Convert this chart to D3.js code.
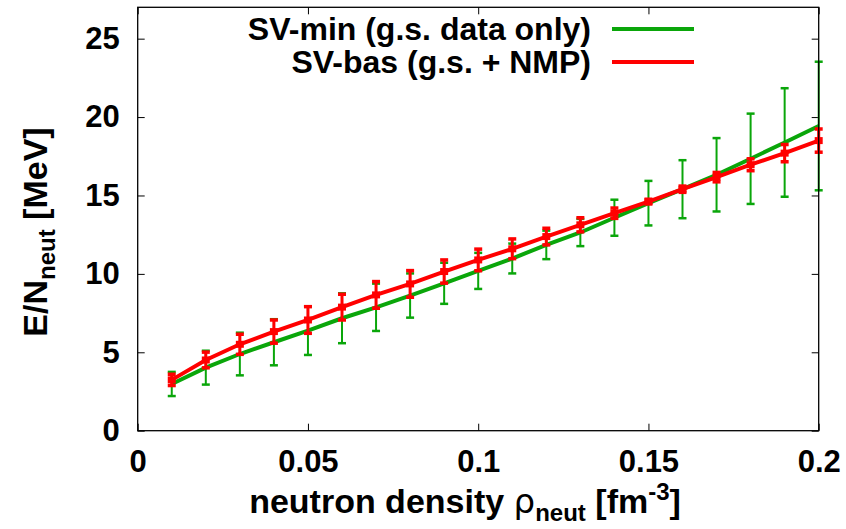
<!DOCTYPE html>
<html><head><meta charset="utf-8">
<script src="https://cdn.jsdelivr.net/npm/d3@7"></script>
<style>
html,body{margin:0;padding:0;background:#fff;}
text{font-family:"Liberation Sans",Arial,Helvetica,sans-serif;font-weight:bold;fill:#000;}
</style></head>
<body>
<svg id="chart" width="846" height="529"></svg>
<script>
// ---- data ----
const density = [0.01,0.02,0.03,0.04,0.05,0.06,0.07,0.08,0.09,0.10,0.11,0.12,0.13,0.14,0.15,0.16,0.17,0.18,0.19,0.20];
const svMin    = [2.98,4.02,4.89,5.64,6.38,7.17,7.87,8.62,9.40,10.19,10.98,11.85,12.64,13.58,14.51,15.40,16.32,17.34,18.38,19.43];
const svMinErr = [0.77,1.08,1.36,1.47,1.55,1.59,1.51,1.41,1.31,1.15,0.95,0.91,0.87,1.15,1.42,1.85,2.34,2.88,3.46,4.10];
const svBas    = [3.24,4.51,5.51,6.32,7.06,7.88,8.66,9.36,10.15,10.89,11.60,12.38,13.13,13.87,14.61,15.40,16.17,16.96,17.70,18.50];
const svBasErr = [0.36,0.50,0.64,0.74,0.85,0.82,0.85,0.85,0.74,0.69,0.63,0.53,0.45,0.33,0.15,0.20,0.30,0.38,0.55,0.74];
const xTicks = [0,0.05,0.1,0.15,0.2];
const xTickLabels = ["0","0.05","0.1","0.15","0.2"];
const yTicks = [0,5,10,15,20,25];
const yTickLabels = ["0","5","10","15","20","25"];
const legendLabels = ["SV-min (g.s. data only)","SV-bas (g.s. + NMP)"];

const GREEN = "#0aa60a", RED = "#ff0000";
const svg = d3.select("#chart");
const L = 137.7, R = 818.7, T = 7.3, B = 430.7;
const x = d3.scaleLinear().domain([0,0.2]).range([L,R]);
const y = d3.scaleLinear().domain([0,27]).range([B,T]);
const tl = 7;

// axes (ticks inward, mirrored)
const gx = svg.append("g").attr("transform",`translate(0,${B})`)
  .call(d3.axisBottom(x).tickValues(xTicks).tickFormat((d,i)=>xTickLabels[i]).tickSizeInner(-tl).tickSizeOuter(0).tickPadding(tl+12));
const gxt = svg.append("g").attr("transform",`translate(0,${T})`)
  .call(d3.axisTop(x).tickValues(xTicks).tickFormat("").tickSizeInner(-tl).tickSizeOuter(0));
const gy = svg.append("g").attr("transform",`translate(${L},0)`)
  .call(d3.axisLeft(y).tickValues(yTicks).tickFormat((d,i)=>yTickLabels[i]).tickSizeInner(-tl).tickSizeOuter(0).tickPadding(tl+11));
const gyr = svg.append("g").attr("transform",`translate(${R},0)`)
  .call(d3.axisRight(y).tickValues(yTicks).tickFormat("").tickSizeInner(-tl).tickSizeOuter(0));
[gx,gxt,gy,gyr].forEach(g=>{g.select(".domain").remove(); g.selectAll("line").attr("stroke","#000").attr("stroke-width",1);});
gx.selectAll("text").attr("font-size",31).attr("font-family","Liberation Sans").attr("font-weight","bold");
gy.selectAll("text").attr("font-size",31).attr("font-family","Liberation Sans").attr("font-weight","bold");

const pts = density.map((d,i)=>({d,i}));
// green error bars
const gErr = svg.append("g");
pts.forEach(p=>{
  const cx = x(p.d), y1 = y(svMin[p.i]+svMinErr[p.i]), y2 = y(svMin[p.i]-svMinErr[p.i]);
  gErr.append("line").attr("x1",cx).attr("x2",cx).attr("y1",y1).attr("y2",y2).attr("stroke",GREEN).attr("stroke-width",2);
  [y1,y2].forEach(yy=>gErr.append("line").attr("x1",cx-4).attr("x2",cx+4).attr("y1",yy).attr("y2",yy).attr("stroke",GREEN).attr("stroke-width",2.5));
});
const line = d3.line().x(d=>x(d[0])).y(d=>y(d[1]));
svg.append("path").datum(density.map((d,i)=>[d,svMin[i]])).attr("d",line).attr("fill","none").attr("stroke",GREEN).attr("stroke-width",4);
// red
svg.append("path").datum(density.map((d,i)=>[d,svBas[i]])).attr("d",line).attr("fill","none").attr("stroke",RED).attr("stroke-width",4);
const rErr = svg.append("g");
pts.forEach(p=>{
  const cx = x(p.d), y1 = y(svBas[p.i]+svBasErr[p.i]), y2 = y(svBas[p.i]-svBasErr[p.i]);
  rErr.append("line").attr("x1",cx).attr("x2",cx).attr("y1",y1).attr("y2",y2).attr("stroke",RED).attr("stroke-width",3);
  [y1,y2].forEach(yy=>rErr.append("line").attr("x1",cx-4).attr("x2",cx+4).attr("y1",yy).attr("y2",yy).attr("stroke",RED).attr("stroke-width",3.5));
  rErr.append("rect").attr("x",cx-4).attr("y",y(svBas[p.i])-3.5).attr("width",8).attr("height",7).attr("fill",RED);
});

// border
svg.append("rect").attr("x",L).attr("y",T).attr("width",R-L).attr("height",B-T).attr("fill","none").attr("stroke","#000").attr("stroke-width",1.3);

// legend
const legY = [29, 62];
legendLabels.forEach((t,i)=>{
  svg.append("text").attr("x",591).attr("y",legY[i]).attr("dy","0.35em").attr("text-anchor","end").attr("font-size",32).text(t);
  svg.append("line").attr("x1",612).attr("x2",694).attr("y1",legY[i]).attr("y2",legY[i]).attr("stroke",i===0?GREEN:RED).attr("stroke-width",4);
});

// axis titles
const xt = svg.append("text").attr("x",465).attr("y",513).attr("text-anchor","middle").attr("font-size",34);
xt.append("tspan").text("neutron density ");
xt.append("tspan").text("ρ").attr("font-family","DejaVu Sans").attr("font-weight","normal");
xt.append("tspan").text("neut").attr("font-size",24).attr("dy",8);
xt.append("tspan").text(" [fm").attr("dy",-8);
xt.append("tspan").text("-3").attr("font-size",24).attr("dy",-13);
xt.append("tspan").text("]").attr("dy",13);

const yt = svg.append("text").attr("transform","translate(47,232) rotate(-90)").attr("text-anchor","middle").attr("font-size",34);
yt.append("tspan").text("E/N");
yt.append("tspan").text("neut").attr("font-size",24).attr("dy",8);
yt.append("tspan").text(" [MeV]").attr("dy",-8);
</script>
</body></html>
